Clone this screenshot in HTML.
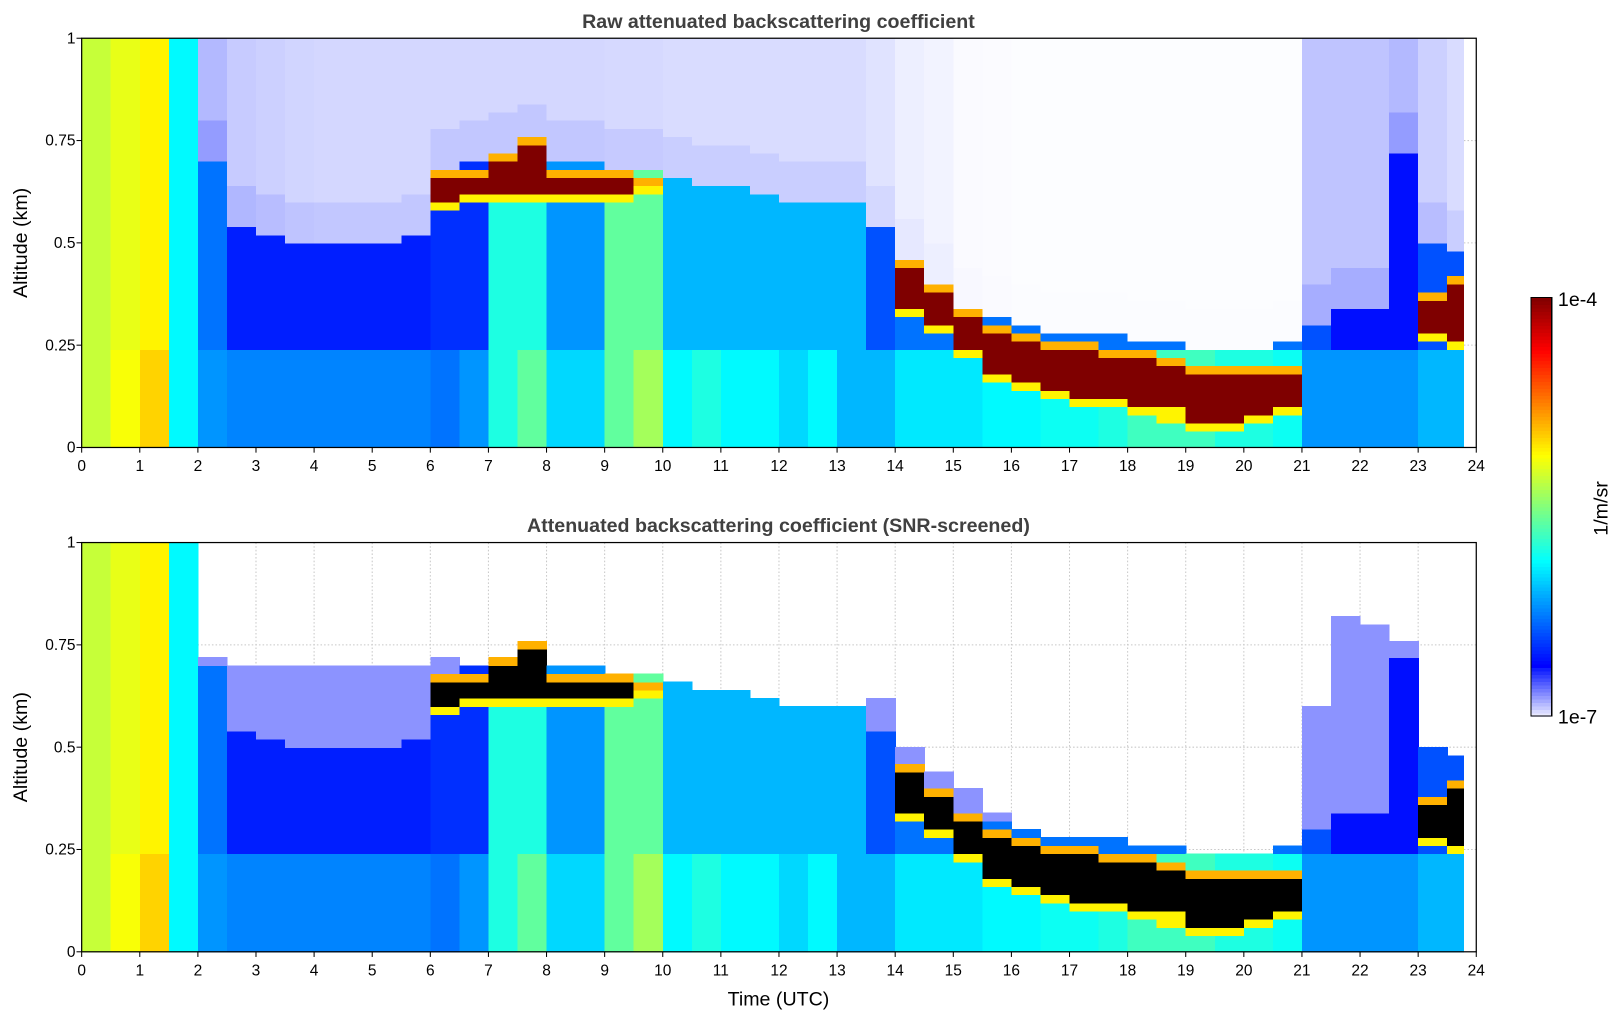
<!DOCTYPE html>
<html><head><meta charset="utf-8">
<style>
body{margin:0;background:#fff;width:1621px;height:1020px;overflow:hidden;font-family:"Liberation Sans",sans-serif;}
svg text{font-family:"Liberation Sans",sans-serif;}
</style></head>
<body>
<svg id="chart" width="1621" height="1020" viewBox="0 0 1568 987" preserveAspectRatio="none"></svg>
<script>
// ---- data (half-hour bins, t = 0, 0.5, ... 23.5 UTC) ----
const times = Array.from({length:48},(_, i)=>i*0.5);
const lowVal = [-5.3,-5.15,-5.0,-5.9,-6.2,-6.25,-6.25,-6.25,-6.25,-6.25,-6.25,-6.25,-6.3,-6.2,-5.8,-5.6,-6.0,-6.0,-5.6,-5.4,-5.9,-5.8,-5.9,-5.9,-6.0,-5.9,-6.1,-6.1,-5.95,-5.95,-5.95,-5.9,-5.9,-5.85,-5.85,-5.8,-5.7,-5.7,-5.7,-5.8,-5.8,-5.85,-6.2,-6.2,-6.2,-6.2,-6.1,-6.1];
const upVal = [-5.3,-5.2,-5.1,-5.9,-6.3,-6.55,-6.55,-6.55,-6.55,-6.55,-6.55,-6.55,-6.5,-6.5,-5.8,-5.8,-6.2,-6.2,-5.6,-5.6,-6.1,-6.1,-6.1,-6.1,-6.1,-6.1,-6.1,-6.4,-6.3,-6.3,-6.3,-6.3,-6.3,-6.3,-6.3,-6.3,-6.3,-6.3,-6.3,-6.3,-6.3,-6.3,-6.4,-6.6,-6.6,-6.6,-6.4,-6.4];
const blTop = [1,1,1,1,0.7,0.55,0.52,0.5,0.5,0.5,0.5,0.52,0.68,0.7,0.72,0.75,0.7,0.7,0.68,0.68,0.66,0.65,0.65,0.62,0.6,0.6,0.6,0.55,0.46,0.4,0.35,0.32,0.3,0.29,0.29,0.28,0.27,0.26,0.25,0.25,0.25,0.26,0.3,0.35,0.35,0.72,0.5,0.48];
const cloudBase = [0,0,0,0,0,0,0,0,0,0,0,0,0.58,0.6,0.6,0.6,0.6,0.6,0.6,0.62,0,0,0,0,0,0,0,0,0.33,0.28,0.23,0.17,0.14,0.12,0.1,0.1,0.08,0.07,0.04,0.05,0.06,0.08,0,0,0,0,0.26,0.25];
const cloudTop = [0,0,0,0,0,0,0,0,0,0,0,0,0.68,0.68,0.72,0.75,0.68,0.67,0.67,0.66,0,0,0,0,0,0,0,0,0.45,0.4,0.33,0.3,0.27,0.25,0.25,0.24,0.23,0.21,0.2,0.19,0.19,0.19,0,0,0,0,0.38,0.42];
const noiseDensity = [0,0,0,0.35,0.3,0.22,0.2,0.18,0.17,0.17,0.17,0.17,0.17,0.17,0.17,0.17,0.17,0.17,0.16,0.16,0.15,0.15,0.15,0.15,0.15,0.15,0.15,0.12,0.07,0.05,0.02,0.015,0.01,0.01,0.01,0.01,0.01,0.01,0.01,0.01,0.01,0.01,0.25,0.25,0.25,0.3,0.2,0.15];
const faintTop = [0,0,0,0,0.72,0.7,0.7,0.7,0.7,0.7,0.7,0.7,0.72,0,0,0,0,0,0,0,0,0,0,0,0,0,0,0.62,0.5,0.45,0.4,0.35,0,0,0,0,0,0,0,0,0,0,0.6,0.82,0.8,0.77,0,0];
const xTicks = Array.from({length:25},(_, i)=>i);
const yTicks = [0,0.25,0.5,0.75,1];
const yTickLabels = ["0","0.25","0.5","0.75","1"];
const dataEnd = 23.78;

const NS="http://www.w3.org/2000/svg";
const svg=document.getElementById('chart');
function mk(tag,attrs,parent){const e=document.createElementNS(NS,tag);for(const k in attrs)e.setAttribute(k,attrs[k]);(parent||svg).appendChild(e);return e;}
const X0=79,X1=1428;
const xs=t=>X0+(X1-X0)*t/24;
function cmap(logv){
  let v=Math.max(0,Math.min(1,(logv+7)/3));
  if(v<0.12){const f=v/0.12;return `rgb(${Math.round(240-240*f)},${Math.round(240-224*f)},255)`;}
  const u=0.125+0.875*(v-0.12)/0.88;
  const c=x=>Math.round(255*Math.max(0,Math.min(1,x)));
  return `rgb(${c(1.5-Math.abs(4*u-3))},${c(1.5-Math.abs(4*u-2))},${c(1.5-Math.abs(4*u-1))})`;
}
function cellColor(i,z,dz,raw){
  const cb=cloudBase[i],ct=cloudTop[i];
  if(ct>0 && z>=cb && z<=ct){
    if(z+dz>ct) return cmap(-4.9);
    if(z-dz<cb) return cmap(-5.1);
    return raw?'#7f0000':'#000000';
  }
  if(z<blTop[i]) return cmap(z<0.25?lowVal[i]:upVal[i]);
  if(raw){
    const d=noiseDensity[i]*(z<blTop[i]+0.1?1.4:1);
    if(d<=0.005) return null;
    const dd=Math.min(0.7,d);
    return `rgb(${Math.round(255*(1-dd))},${Math.round(255-235*dd)},255)`;
  }
  if(faintTop[i]>0 && z<faintTop[i]) return cmap(-6.85);
  return null;
}
function panel(yTop,title,raw,showXLabel,pname){
  const Y0=yTop,Y1=yTop+396;
  const ys=z=>Y1-(Y1-Y0)*z;
  const g=mk('g',{});
  
  
  xTicks.forEach(t=>{if(t>0&&t<24){const l=mk('line',{x1:xs(t),x2:xs(t),y1:Y0,y2:Y1,stroke:'#c8c8c8','stroke-dasharray':'1.5,2','stroke-width':1},g);
    
    }});
  yTicks.forEach(z=>{if(z>0&&z<1){const l=mk('line',{x1:X0,x2:X1,y1:ys(z),y2:ys(z),stroke:'#c8c8c8','stroke-dasharray':'1.5,2','stroke-width':1},g);
    
    }});
  const hm=mk('g',{'shape-rendering':'crispEdges'},g);
  
  
  const dz=0.02;
  for(let i=0;i<times.length;i++){
    const t0=times[i],t1=Math.min(times[i]+0.5,dataEnd);
    for(let j=0;j<50;j++){
      const z=(j+0.5)*dz;
      const col=cellColor(i,z,dz,raw);
      if(!col) continue;
      const r=mk('rect',{x:xs(t0),y:ys(z+dz/2),width:xs(t1)-xs(t0)+0.6,height:ys(z-dz/2)-ys(z+dz/2)+0.6,fill:col},hm);
      
      
    }
  }
  const fr=mk('rect',{x:X0,y:Y0,width:X1-X0,height:396,fill:'none',stroke:'#000','stroke-width':1.2},g);
  
  
  xTicks.forEach(t=>{
    mk('line',{x1:xs(t),x2:xs(t),y1:Y1,y2:Y1+5,stroke:'#000'},g);
    const tx=mk('text',{x:xs(t),y:Y1+23,'font-size':15,'text-anchor':'middle'},g);tx.textContent=t;
    
    
  });
  yTicks.forEach((z,k)=>{
    mk('line',{x1:X0-5,x2:X0,y1:ys(z),y2:ys(z),stroke:'#000'},g);
    const tx=mk('text',{x:X0-6,y:ys(z)+5,'font-size':15,'text-anchor':'end'},g);tx.textContent=yTickLabels[k];
    
    
  });
  const tt=mk('text',{x:753,y:Y0-10,'font-size':19,'font-weight':'bold','text-anchor':'middle',fill:'#404040'},g);tt.textContent=title;
  
  
  const yl=mk('text',{x:0,y:0,'font-size':19,'text-anchor':'middle',transform:`translate(26,${(Y0+Y1)/2}) rotate(-90)`},g);yl.textContent='Altitude (km)';
  
  
  if(showXLabel){
    const xl=mk('text',{x:753,y:973,'font-size':19,'text-anchor':'middle'},g);xl.textContent='Time (UTC)';
    
    
  }
}
panel(37,'Raw attenuated backscattering coefficient',true,false,'raw-panel');
panel(525,'Attenuated backscattering coefficient (SNR-screened)',false,true,'screened-panel');
const cb=mk('g',{'shape-rendering':'crispEdges'});


const CB0=288,CB1=693,N=120;
for(let k=0;k<N;k++){
  const lv=-7+3*(k+0.5)/N;
  mk('rect',{x:1481,y:CB1-(CB1-CB0)*(k+1)/N,width:20,height:(CB1-CB0)/N+0.6,fill:cmap(lv)},cb);
}
mk('rect',{x:1481,y:CB0,width:20,height:CB1-CB0,fill:'none',stroke:'#000'},cb);
const c1=mk('text',{x:1507,y:CB0+8,'font-size':19},cb);c1.textContent='1e-4';


const c2=mk('text',{x:1507,y:CB1+7,'font-size':19},cb);c2.textContent='1e-7';


const c3=mk('text',{x:0,y:0,'font-size':19,'text-anchor':'middle',transform:'translate(1555,492) rotate(-90)'},cb);c3.textContent='1/m/sr';


</script>
</body></html>
